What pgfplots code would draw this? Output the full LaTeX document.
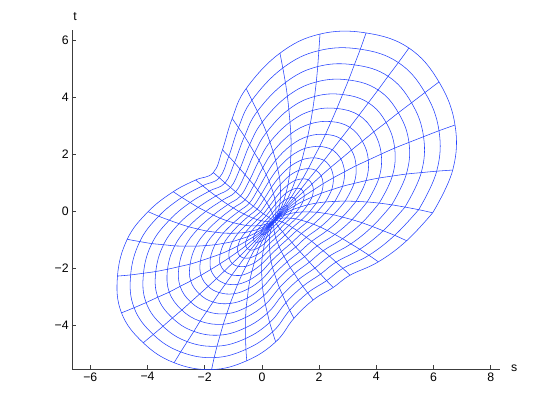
\documentclass[border=0pt]{standalone}
\usepackage{fontspec}
\setmainfont{Liberation Sans}
\usepackage{pgfplots}
\usepackage{pgfplotstable}
\pgfplotsset{compat=1.18}
\definecolor{meshblue}{RGB}{35,65,255}
\definecolor{axisgray}{RGB}{60,60,60}

% polar mesh: sp = spoke (0..28, 29 repeats 0), rg = ring (0 = centre, 16 = rim)
\pgfplotstableread{
sp rg x y
0 0 0.43 -0.33
0 1 0.62 -0.19
0 2 0.84 -0.06
0 3 1.07 0.05
0 4 1.33 0.14
0 5 1.60 0.22
0 6 1.90 0.28
0 7 2.22 0.32
0 8 2.55 0.34
0 9 2.91 0.35
0 10 3.29 0.34
0 11 3.68 0.32
0 12 4.10 0.28
0 13 4.54 0.22
0 14 5.00 0.14
0 15 5.48 0.05
0 16 5.97 -0.06
1 0 0.43 -0.33
1 1 0.65 -0.15
1 2 0.89 0.03
1 3 1.15 0.19
1 4 1.44 0.35
1 5 1.75 0.49
1 6 2.08 0.63
1 7 2.44 0.75
1 8 2.82 0.87
1 9 3.22 0.97
1 10 3.64 1.07
1 11 4.09 1.16
1 12 4.56 1.23
1 13 5.05 1.30
1 14 5.57 1.35
1 15 6.11 1.40
1 16 6.67 1.44
2 0 0.43 -0.33
2 1 0.66 -0.11
2 2 0.91 0.10
2 3 1.19 0.32
2 4 1.48 0.53
2 5 1.80 0.74
2 6 2.14 0.96
2 7 2.50 1.17
2 8 2.89 1.38
2 9 3.29 1.59
2 10 3.72 1.79
2 11 4.17 2.00
2 12 4.64 2.21
2 13 5.14 2.41
2 14 5.65 2.61
2 15 6.19 2.82
2 16 6.75 3.02
3 0 0.43 -0.33
3 1 0.66 -0.09
3 2 0.91 0.16
3 3 1.17 0.42
3 4 1.45 0.68
3 5 1.75 0.95
3 6 2.07 1.24
3 7 2.40 1.53
3 8 2.76 1.83
3 9 3.13 2.14
3 10 3.51 2.45
3 11 3.91 2.78
3 12 4.34 3.11
3 13 4.77 3.45
3 14 5.23 3.80
3 15 5.70 4.16
3 16 6.19 4.53
4 0 0.43 -0.33
4 1 0.65 -0.08
4 2 0.88 0.19
4 3 1.12 0.47
4 4 1.37 0.78
4 5 1.62 1.10
4 6 1.89 1.43
4 7 2.17 1.78
4 8 2.46 2.15
4 9 2.76 2.54
4 10 3.07 2.94
4 11 3.39 3.36
4 12 3.72 3.80
4 13 4.06 4.25
4 14 4.41 4.73
4 15 4.77 5.21
4 16 5.14 5.72
5 0 0.43 -0.33
5 1 0.63 -0.08
5 2 0.82 0.19
5 3 1.02 0.48
5 4 1.22 0.80
5 5 1.42 1.13
5 6 1.62 1.49
5 7 1.81 1.87
5 8 2.02 2.27
5 9 2.22 2.69
5 10 2.42 3.14
5 11 2.62 3.60
5 12 2.82 4.09
5 13 3.03 4.60
5 14 3.23 5.13
5 15 3.44 5.68
5 16 3.64 6.25
6 0 0.43 -0.33
6 1 0.59 -0.10
6 2 0.75 0.16
6 3 0.90 0.44
6 4 1.04 0.75
6 5 1.17 1.08
6 6 1.29 1.43
6 7 1.40 1.80
6 8 1.50 2.20
6 9 1.60 2.62
6 10 1.69 3.06
6 11 1.77 3.53
6 12 1.84 4.02
6 13 1.90 4.53
6 14 1.95 5.07
6 15 1.99 5.63
6 16 2.03 6.21
7 0 0.43 -0.33
7 1 0.56 -0.12
7 2 0.67 0.11
7 3 0.76 0.36
7 4 0.84 0.63
7 5 0.91 0.92
7 6 0.96 1.24
7 7 0.99 1.57
7 8 1.01 1.93
7 9 1.02 2.31
7 10 1.01 2.71
7 11 0.98 3.12
7 12 0.94 3.57
7 13 0.89 4.03
7 14 0.82 4.51
7 15 0.73 5.02
7 16 0.63 5.54
8 0 0.43 -0.33
8 1 0.51 -0.16
8 2 0.58 0.03
8 3 0.62 0.23
8 4 0.65 0.45
8 5 0.65 0.68
8 6 0.64 0.93
8 7 0.61 1.20
8 8 0.55 1.48
8 9 0.48 1.78
8 10 0.39 2.09
8 11 0.28 2.42
8 12 0.16 2.76
8 13 0.01 3.12
8 14 -0.16 3.50
8 15 -0.35 3.89
8 16 -0.55 4.30
9 0 0.43 -0.33
9 1 0.47 -0.20
9 2 0.49 -0.06
9 3 0.49 0.09
9 4 0.48 0.25
9 5 0.45 0.43
9 6 0.40 0.62
9 7 0.33 0.83
9 8 0.25 1.05
9 9 0.15 1.28
9 10 0.03 1.52
9 11 -0.10 1.78
9 12 -0.26 2.04
9 13 -0.43 2.33
9 14 -0.61 2.62
9 15 -0.82 2.93
9 16 -1.04 3.25
10 0 0.43 -0.33
10 1 0.42 -0.25
10 2 0.40 -0.17
10 3 0.36 -0.07
10 4 0.31 0.04
10 5 0.25 0.16
10 6 0.17 0.29
10 7 0.08 0.43
10 8 -0.03 0.58
10 9 -0.15 0.74
10 10 -0.28 0.91
10 11 -0.43 1.09
10 12 -0.59 1.28
10 13 -0.77 1.48
10 14 -0.96 1.70
10 15 -1.16 1.92
10 16 -1.38 2.15
11 0 0.43 -0.33
11 1 0.38 -0.30
11 2 0.31 -0.27
11 3 0.24 -0.22
11 4 0.15 -0.16
11 5 0.05 -0.10
11 6 -0.05 -0.02
11 7 -0.17 0.07
11 8 -0.30 0.17
11 9 -0.44 0.28
11 10 -0.59 0.40
11 11 -0.75 0.53
11 12 -0.92 0.68
11 13 -1.10 0.83
11 14 -1.29 0.99
11 15 -1.49 1.17
11 16 -1.70 1.35
12 0 0.43 -0.33
12 1 0.33 -0.35
12 2 0.22 -0.36
12 3 0.10 -0.36
12 4 -0.02 -0.34
12 5 -0.16 -0.30
12 6 -0.31 -0.25
12 7 -0.47 -0.18
12 8 -0.63 -0.10
12 9 -0.81 -0.01
12 10 -1.00 0.11
12 11 -1.19 0.23
12 12 -1.40 0.37
12 13 -1.61 0.53
12 14 -1.84 0.70
12 15 -2.07 0.89
12 16 -2.32 1.09
13 0 0.43 -0.33
13 1 0.29 -0.40
13 2 0.14 -0.46
13 3 -0.02 -0.50
13 4 -0.20 -0.52
13 5 -0.38 -0.52
13 6 -0.57 -0.50
13 7 -0.78 -0.46
13 8 -0.99 -0.41
13 9 -1.22 -0.34
13 10 -1.46 -0.25
13 11 -1.70 -0.14
13 12 -1.96 -0.01
13 13 -2.23 0.13
13 14 -2.51 0.30
13 15 -2.80 0.48
13 16 -3.10 0.68
14 0 0.43 -0.33
14 1 0.25 -0.45
14 2 0.06 -0.55
14 3 -0.14 -0.64
14 4 -0.36 -0.70
14 5 -0.58 -0.75
14 6 -0.83 -0.77
14 7 -1.08 -0.78
14 8 -1.35 -0.77
14 9 -1.63 -0.74
14 10 -1.93 -0.70
14 11 -2.24 -0.63
14 12 -2.56 -0.55
14 13 -2.90 -0.44
14 14 -3.24 -0.32
14 15 -3.61 -0.18
14 16 -3.98 -0.02
15 0 0.43 -0.33
15 1 0.23 -0.49
15 2 0.01 -0.64
15 3 -0.23 -0.77
15 4 -0.48 -0.89
15 5 -0.75 -0.98
15 6 -1.03 -1.07
15 7 -1.33 -1.13
15 8 -1.64 -1.18
15 9 -1.97 -1.21
15 10 -2.31 -1.23
15 11 -2.68 -1.23
15 12 -3.05 -1.22
15 13 -3.44 -1.18
15 14 -3.85 -1.14
15 15 -4.27 -1.07
15 16 -4.71 -0.99
16 0 0.43 -0.33
16 1 0.21 -0.53
16 2 -0.03 -0.72
16 3 -0.29 -0.90
16 4 -0.56 -1.06
16 5 -0.84 -1.22
16 6 -1.14 -1.37
16 7 -1.46 -1.51
16 8 -1.80 -1.63
16 9 -2.15 -1.75
16 10 -2.51 -1.86
16 11 -2.90 -1.95
16 12 -3.30 -2.04
16 13 -3.71 -2.12
16 14 -4.14 -2.18
16 15 -4.59 -2.24
16 16 -5.05 -2.28
17 0 0.43 -0.33
17 1 0.20 -0.56
17 2 -0.04 -0.78
17 3 -0.30 -1.00
17 4 -0.57 -1.22
17 5 -0.85 -1.43
17 6 -1.15 -1.64
17 7 -1.47 -1.85
17 8 -1.79 -2.05
17 9 -2.13 -2.25
17 10 -2.49 -2.45
17 11 -2.86 -2.64
17 12 -3.24 -2.84
17 13 -3.64 -3.02
17 14 -4.05 -3.21
17 15 -4.47 -3.39
17 16 -4.91 -3.57
18 0 0.43 -0.33
18 1 0.21 -0.57
18 2 -0.02 -0.82
18 3 -0.26 -1.07
18 4 -0.51 -1.32
18 5 -0.77 -1.58
18 6 -1.04 -1.84
18 7 -1.31 -2.10
18 8 -1.59 -2.37
18 9 -1.88 -2.64
18 10 -2.18 -2.91
18 11 -2.49 -3.19
18 12 -2.80 -3.47
18 13 -3.13 -3.75
18 14 -3.46 -4.04
18 15 -3.80 -4.33
18 16 -4.15 -4.62
19 0 0.43 -0.33
19 1 0.22 -0.58
19 2 0.02 -0.83
19 3 -0.19 -1.10
19 4 -0.41 -1.37
19 5 -0.62 -1.65
19 6 -0.83 -1.94
19 7 -1.05 -2.24
19 8 -1.27 -2.55
19 9 -1.49 -2.86
19 10 -1.71 -3.19
19 11 -1.93 -3.52
19 12 -2.16 -3.86
19 13 -2.38 -4.22
19 14 -2.61 -4.58
19 15 -2.84 -4.94
19 16 -3.07 -5.32
20 0 0.43 -0.33
20 1 0.25 -0.57
20 2 0.08 -0.82
20 3 -0.09 -1.08
20 4 -0.26 -1.35
20 5 -0.41 -1.64
20 6 -0.56 -1.94
20 7 -0.71 -2.25
20 8 -0.85 -2.57
20 9 -0.98 -2.90
20 10 -1.11 -3.24
20 11 -1.23 -3.60
20 12 -1.35 -3.97
20 13 -1.46 -4.35
20 14 -1.57 -4.74
20 15 -1.67 -5.14
20 16 -1.76 -5.56
21 0 0.43 -0.33
21 1 0.28 -0.55
21 2 0.15 -0.78
21 3 0.03 -1.02
21 4 -0.09 -1.27
21 5 -0.19 -1.54
21 6 -0.27 -1.82
21 7 -0.35 -2.11
21 8 -0.42 -2.41
21 9 -0.47 -2.72
21 10 -0.51 -3.05
21 11 -0.55 -3.38
21 12 -0.57 -3.73
21 13 -0.57 -4.09
21 14 -0.57 -4.47
21 15 -0.56 -4.85
21 16 -0.53 -5.25
22 0 0.43 -0.33
22 1 0.32 -0.52
22 2 0.23 -0.71
22 3 0.16 -0.92
22 4 0.09 -1.14
22 5 0.05 -1.37
22 6 0.01 -1.61
22 7 -0.01 -1.86
22 8 -0.01 -2.12
22 9 0.00 -2.39
22 10 0.02 -2.67
22 11 0.06 -2.97
22 12 0.12 -3.27
22 13 0.19 -3.58
22 14 0.27 -3.91
22 15 0.37 -4.24
22 16 0.48 -4.59
23 0 0.43 -0.33
23 1 0.37 -0.48
23 2 0.32 -0.63
23 3 0.28 -0.80
23 4 0.26 -0.97
23 5 0.26 -1.15
23 6 0.27 -1.35
23 7 0.29 -1.55
23 8 0.32 -1.76
23 9 0.37 -1.98
23 10 0.44 -2.20
23 11 0.52 -2.44
23 12 0.61 -2.69
23 13 0.72 -2.94
23 14 0.84 -3.21
23 15 0.97 -3.48
23 16 1.12 -3.76
24 0 0.43 -0.33
24 1 0.41 -0.43
24 2 0.41 -0.54
24 3 0.42 -0.66
24 4 0.45 -0.80
24 5 0.48 -0.94
24 6 0.54 -1.09
24 7 0.60 -1.25
24 8 0.68 -1.42
24 9 0.77 -1.59
24 10 0.88 -1.78
24 11 0.99 -1.98
24 12 1.13 -2.19
24 13 1.27 -2.41
24 14 1.43 -2.64
24 15 1.60 -2.87
24 16 1.79 -3.12
25 0 0.43 -0.33
25 1 0.46 -0.38
25 2 0.51 -0.45
25 3 0.56 -0.53
25 4 0.63 -0.62
25 5 0.72 -0.72
25 6 0.81 -0.84
25 7 0.92 -0.96
25 8 1.05 -1.10
25 9 1.18 -1.26
25 10 1.33 -1.42
25 11 1.49 -1.60
25 12 1.66 -1.79
25 13 1.85 -2.00
25 14 2.05 -2.21
25 15 2.26 -2.44
25 16 2.49 -2.68
26 0 0.43 -0.33
26 1 0.51 -0.33
26 2 0.60 -0.35
26 3 0.70 -0.38
26 4 0.81 -0.43
26 5 0.94 -0.50
26 6 1.07 -0.58
26 7 1.22 -0.68
26 8 1.38 -0.79
26 9 1.55 -0.92
26 10 1.74 -1.06
26 11 1.93 -1.22
26 12 2.14 -1.39
26 13 2.36 -1.58
26 14 2.59 -1.79
26 15 2.83 -2.01
26 16 3.08 -2.25
27 0 0.43 -0.33
27 1 0.55 -0.28
27 2 0.69 -0.25
27 3 0.84 -0.24
27 4 1.00 -0.25
27 5 1.18 -0.27
27 6 1.37 -0.32
27 7 1.58 -0.38
27 8 1.80 -0.46
27 9 2.04 -0.56
27 10 2.28 -0.68
27 11 2.55 -0.82
27 12 2.82 -0.97
27 13 3.11 -1.15
27 14 3.42 -1.34
27 15 3.74 -1.55
27 16 4.07 -1.78
28 0 0.43 -0.33
28 1 0.59 -0.23
28 2 0.77 -0.15
28 3 0.97 -0.09
28 4 1.18 -0.05
28 5 1.41 -0.03
28 6 1.66 -0.03
28 7 1.92 -0.04
28 8 2.20 -0.08
28 9 2.50 -0.13
28 10 2.81 -0.21
28 11 3.15 -0.30
28 12 3.50 -0.41
28 13 3.86 -0.54
28 14 4.24 -0.69
28 15 4.64 -0.85
28 16 5.06 -1.04
29 0 0.43 -0.33
29 1 0.62 -0.19
29 2 0.84 -0.06
29 3 1.07 0.05
29 4 1.33 0.14
29 5 1.60 0.22
29 6 1.90 0.28
29 7 2.22 0.32
29 8 2.55 0.34
29 9 2.91 0.35
29 10 3.29 0.34
29 11 3.68 0.32
29 12 4.10 0.28
29 13 4.54 0.22
29 14 5.00 0.14
29 15 5.48 0.05
29 16 5.97 -0.06
}\meshdata

% the same points, ring by ring
\pgfplotstablecreatecol[create col/expr={\thisrow{rg}*100+\thisrow{sp}}]{key}{\meshdata}
\pgfplotstablesort[sort key=key]{\ringdata}{\meshdata}

\pgfplotsset{meshline/.style={meshblue, line width=0.55pt, smooth, mark=none, unbounded coords=discard}}

\begin{document}
\begin{tikzpicture}
\useasboundingbox (-72.3pt,-46pt) rectangle (481.7pt,369pt);
\begin{axis}[
  scale only axis,
  width=427.6pt, height=338.9pt,
  xmin=-6.63, xmax=8.32, ymin=-5.54, ymax=6.35,
  clip=false,
  axis x line=bottom, axis y line=left,
  axis line style={-, axisgray, line width=0.7pt},
  every tick/.style={axisgray, line width=0.6pt},
  tick align=inside, major tick length=4pt,
  xtick={-6,-4,-2,0,2,4,6,8},
  xticklabels={−6,−4,−2,0,2,4,6,8},
  ytick={-4,-2,0,2,4,6},
  yticklabels={−4,−2,0,2,4,6},
  tick label style={font=\fontsize{12.3}{14}\selectfont, text=black},
]
% inner rings (the last spoke repeats the first to close each ring)
\pgfplotsinvokeforeach{1,...,8}{
  \addplot[meshline, restrict expr to domain={\thisrow{rg}}{#1:#1}]
    table[x=x, y=y] {\ringdata};
}
% outer rings, points further apart: rounder curves
\pgfplotsinvokeforeach{9,...,16}{
  \addplot[meshline, tension=0.68, restrict expr to domain={\thisrow{rg}}{#1:#1}]
    table[x=x, y=y] {\ringdata};
}
% spokes from the centre to the rim
\pgfplotsinvokeforeach{0,...,28}{
  \addplot[meshline, restrict expr to domain={\thisrow{sp}}{#1:#1}]
    table[x=x, y=y] {\meshdata};
}
\node[font=\fontsize{12.3}{14}\selectfont, anchor=base west, inner sep=0pt]
  at (axis description cs:1,0) [xshift=11pt, yshift=-3pt] {s};
\node[font=\fontsize{12.3}{14}\selectfont, anchor=base west, inner sep=0pt]
  at (axis description cs:0,1) [xshift=1pt, yshift=10pt] {t};
\end{axis}
\end{tikzpicture}
\end{document}
